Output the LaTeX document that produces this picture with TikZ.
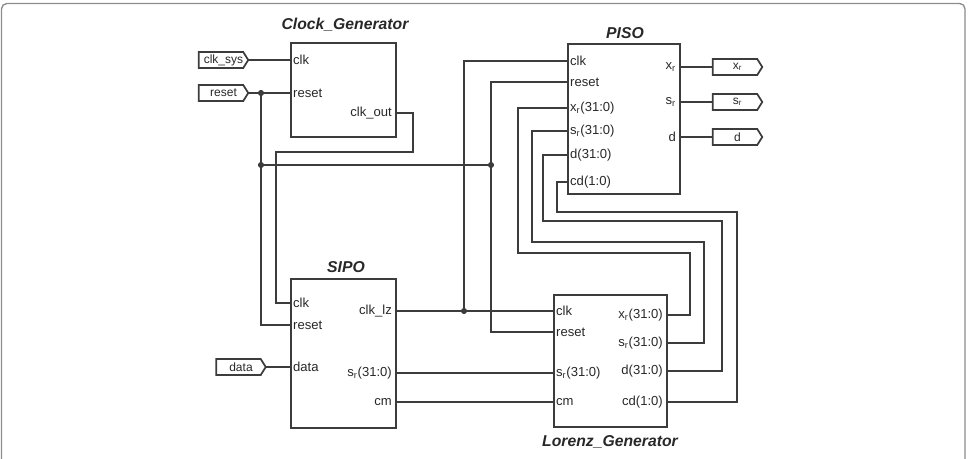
\documentclass[tikz,border=0pt]{standalone}
\usepackage{fontspec}
\setmainfont{Liberation Sans}
\setsansfont{Liberation Sans}
\usepackage{tikz}
\definecolor{wirecol}{RGB}{60, 60, 60}
\definecolor{textcol}{RGB}{40, 40, 40}
\definecolor{framecol}{RGB}{140, 140, 140}

\tikzset{
  block/.style={draw=wirecol, line width=1.4pt, inner sep=0, anchor=north west},
  wire/.style={draw=wirecol, line width=1.4pt},
  pin/.style={text=textcol, inner sep=2.2pt, font=\sffamily\fontsize{9.8}{10}\selectfont},
  title/.style={text=textcol, inner sep=0, font=\sffamily\bfseries\itshape\fontsize{11.8}{12}\selectfont},
  tag/.style={minimum width=36.75pt, minimum height=11.5pt, inner sep=0, text=textcol,
              font=\sffamily\fontsize{9}{9}\selectfont},
  tagline/.style={draw=wirecol, line width=1.3pt},
  dot/.style={fill=wirecol}
}

% port tag: name, position, text
\newcommand{\porttag}[3]{%
  \node[tag] (#1) at #2 {#3};
  \draw[tagline] (#1.north west) -- ([xshift=-3.75pt]#1.north east) -- (#1.east)
    -- ([xshift=-3.75pt]#1.south east) -- (#1.south west) -- cycle;
}

\begin{document}
\begin{tikzpicture}[x=0.75pt, y=-0.75pt]
  \useasboundingbox (0, 0) rectangle (972, 458);
  \draw[framecol, line width=1pt, rounded corners=4pt] (1.5, 3.5) rectangle (965, 490);

  % Clock_Generator
  \node[block, minimum width=78.75pt, minimum height=70.5pt] (clkgen) at (290, 42) {};
  \node[title] (clkgen-t) at (345, 25) {Clock\_Generator};
  \node[pin, right] (cg-clk) at (290, 60) {clk};
  \node[pin, right] (cg-rst) at (290, 93) {reset};
  \node[pin, left] (cg-out) at (395, 113) {clk\_out};

  % PISO
  \node[block, minimum width=84pt, minimum height=112.5pt] (piso) at (567, 43) {};
  \node[title] (piso-t) at (625, 33) {PISO};
  \node[pin, right] (pi-clk) at (567, 61) {clk};
  \node[pin, right] (pi-rst) at (567, 82) {reset};
  \node[pin, right] (pi-xr) at (567, 108) {x\textsubscript{r}(31:0)};
  \node[pin, right] (pi-sr) at (567, 131) {s\textsubscript{r}(31:0)};
  \node[pin, right] (pi-d) at (567, 155) {d(31:0)};
  \node[pin, right] (pi-cd) at (567, 182) {cd(1:0)};
  \node[pin, left] (pi-oxr) at (679, 67) {x\textsubscript{r}};
  \node[pin, left] (pi-osr) at (679, 102) {s\textsubscript{r}};
  \node[pin, left] (pi-od) at (679, 137) {d};

  % SIPO
  \node[block, minimum width=78.75pt, minimum height=111.75pt] (sipo) at (290, 278) {};
  \node[title] (sipo-t) at (346, 267) {SIPO};
  \node[pin, right] (sp-clk) at (290, 303) {clk};
  \node[pin, right] (sp-rst) at (290, 325) {reset};
  \node[pin, right] (sp-data) at (290, 367) {data};
  \node[pin, left] (sp-lz) at (395, 311) {clk\_lz};
  \node[pin, left] (sp-sr) at (395, 373) {s\textsubscript{r}(31:0)};
  \node[pin, left] (sp-cm) at (395, 402) {cm};

  % Lorenz_Generator
  \node[block, minimum width=84.75pt, minimum height=99pt] (lorenz) at (553, 294) {};
  \node[title] (lorenz-t) at (610, 442) {Lorenz\_Generator};
  \node[pin, right] (lg-clk) at (553, 311) {clk};
  \node[pin, right] (lg-rst) at (553, 332) {reset};
  \node[pin, right] (lg-sr) at (553, 373) {s\textsubscript{r}(31:0)};
  \node[pin, right] (lg-cm) at (553, 402) {cm};
  \node[pin, left] (lg-xr) at (666, 315) {x\textsubscript{r}(31:0)};
  \node[pin, left] (lg-osr) at (666, 343) {s\textsubscript{r}(31:0)};
  \node[pin, left] (lg-d) at (666, 371) {d(31:0)};
  \node[pin, left] (lg-cd) at (666, 402) {cd(1:0)};

  % ports
  \porttag{clksys}{(223.5, 60)}{clk\_sys}
  \porttag{reset}{(223.5, 93)}{reset}
  \porttag{data}{(241, 367)}{data}
  \porttag{out-xr}{(737.5, 67)}{x\textsubscript{r}}
  \porttag{out-sr}{(737.5, 102)}{s\textsubscript{r}}
  \porttag{out-d}{(737.5, 137)}{d}

  \coordinate (j1) at (261, 93);
  \coordinate (j2) at (261, 165);
  \coordinate (j3) at (491, 165);
  \coordinate (j4) at (464, 311);
  \coordinate (c1) at (413, 152);
  \coordinate (c2) at (276, 152);

  % wires
  \draw[wire] (clksys.east) -- (cg-clk.west);
  \draw[wire] (reset.east) -- (cg-rst.west);
  \draw[wire] (j1) -- (j2) |- (sp-rst.west);
  \draw[wire] (j2) -- (j3);
  \draw[wire] (cg-out.east) -| (c1) -- (c2) |- (sp-clk.west);
  \draw[wire] (sp-lz.east) -- (j4) -- (lg-clk.west);
  \draw[wire] (j4) |- (pi-clk.west);
  \draw[wire] (pi-rst.west) -| (j3) |- (lg-rst.west);
  \draw[wire] (data.east) -- (sp-data.west);
  \draw[wire] (sp-sr.east) -- (lg-sr.west);
  \draw[wire] (sp-cm.east) -- (lg-cm.west);
  \foreach \a/\b/\x/\y/\z in {xr/xr/690/253/518, osr/sr/704/242/532, d/d/722/221/543, cd/cd/737/212/557}
    \draw[wire] (lg-\a.east) -| (\x, \y) -- (\z, \y) |- (pi-\b.west);
  \draw[wire] (pi-oxr.east) -- (out-xr.west);
  \draw[wire] (pi-osr.east) -- (out-sr.west);
  \draw[wire] (pi-od.east) -- (out-d.west);

  \foreach \j in {j1, j2, j3, j4}
    \fill[dot] (\j) circle (2.3pt);

\end{tikzpicture}
\end{document}
